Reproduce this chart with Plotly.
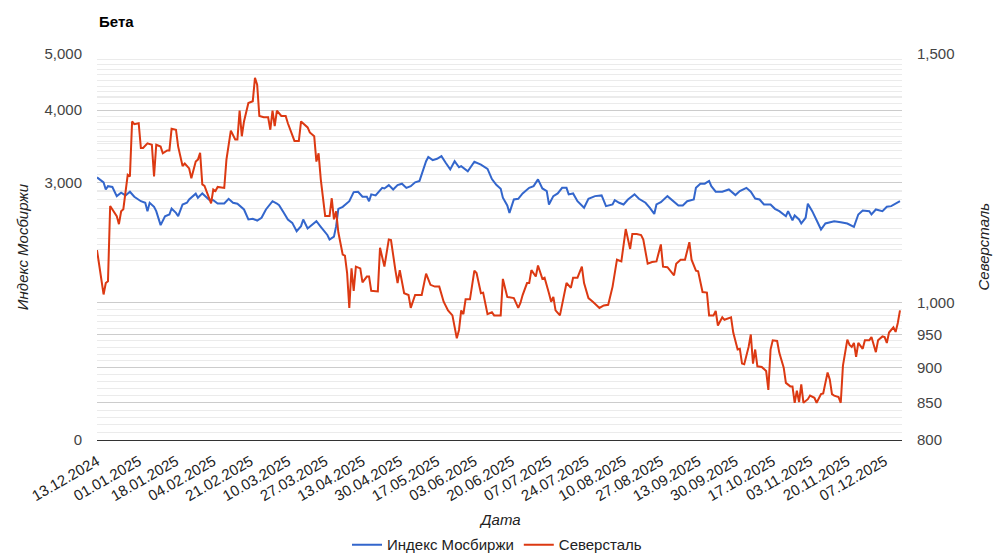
import math
import plotly.graph_objects as go

# ---------------- data ----------------
moex_dates = [
    "2024-12-13", "2024-12-16", "2024-12-17", "2024-12-18", "2024-12-20", "2024-12-22", "2024-12-24", "2024-12-26", "2024-12-28", "2024-12-30",
    "2025-01-02", "2025-01-04", "2025-01-05", "2025-01-06", "2025-01-08", "2025-01-09", "2025-01-11", "2025-01-13", "2025-01-15", "2025-01-16",
    "2025-01-18", "2025-01-19", "2025-01-21", "2025-01-23", "2025-01-24", "2025-01-27", "2025-01-28", "2025-01-30",
    "2025-02-02", "2025-02-04", "2025-02-06", "2025-02-09", "2025-02-11", "2025-02-13", "2025-02-15", "2025-02-18", "2025-02-20", "2025-02-22",
    "2025-02-24", "2025-02-26", "2025-02-28",
    "2025-03-03", "2025-03-05", "2025-03-06", "2025-03-08", "2025-03-10", "2025-03-12", "2025-03-14", "2025-03-16", "2025-03-17", "2025-03-19",
    "2025-03-23", "2025-03-25", "2025-03-28", "2025-03-29", "2025-03-31",
    "2025-04-01", "2025-04-02", "2025-04-04", "2025-04-07", "2025-04-09", "2025-04-11", "2025-04-13", "2025-04-15", "2025-04-16", "2025-04-17",
    "2025-04-19", "2025-04-22", "2025-04-23", "2025-04-25", "2025-04-27", "2025-04-29",
    "2025-05-01", "2025-05-03", "2025-05-05", "2025-05-07", "2025-05-09", "2025-05-11", "2025-05-12", "2025-05-13", "2025-05-15", "2025-05-17",
    "2025-05-19", "2025-05-21", "2025-05-23", "2025-05-25", "2025-05-27", "2025-05-28", "2025-05-31",
    "2025-06-03", "2025-06-06", "2025-06-09", "2025-06-11", "2025-06-13", "2025-06-15", "2025-06-16", "2025-06-18", "2025-06-19", "2025-06-21",
    "2025-06-23", "2025-06-25", "2025-06-28", "2025-06-30",
    "2025-07-02", "2025-07-04", "2025-07-06", "2025-07-07", "2025-07-09", "2025-07-11", "2025-07-13", "2025-07-15", "2025-07-16", "2025-07-18",
    "2025-07-20", "2025-07-23", "2025-07-25", "2025-07-28", "2025-07-31",
    "2025-08-02", "2025-08-05", "2025-08-06", "2025-08-08", "2025-08-10", "2025-08-12", "2025-08-15", "2025-08-17", "2025-08-20", "2025-08-22",
    "2025-08-24", "2025-08-25", "2025-08-27", "2025-08-30",
    "2025-09-02", "2025-09-04", "2025-09-06", "2025-09-08", "2025-09-11", "2025-09-12", "2025-09-14", "2025-09-16", "2025-09-18", "2025-09-19",
    "2025-09-21", "2025-09-24", "2025-09-27", "2025-09-30",
    "2025-10-02", "2025-10-05", "2025-10-07", "2025-10-09", "2025-10-11", "2025-10-13", "2025-10-16", "2025-10-18", "2025-10-20", "2025-10-23",
    "2025-10-24", "2025-10-26", "2025-10-27", "2025-10-29", "2025-10-30",
    "2025-11-01", "2025-11-02", "2025-11-04", "2025-11-06", "2025-11-08", "2025-11-10", "2025-11-12", "2025-11-14", "2025-11-17", "2025-11-20",
    "2025-11-23", "2025-11-25", "2025-11-27", "2025-11-30",
    "2025-12-01", "2025-12-03", "2025-12-06", "2025-12-08", "2025-12-10", "2025-12-12", "2025-12-14",
]
moex_values = [
    3060, 3000, 2916, 2955, 2945, 2840, 2880, 2848, 2890, 2833,
    2783, 2766, 2675, 2766, 2722, 2675, 2530, 2622, 2640, 2704, 2657, 2622, 2747, 2766, 2802, 2868, 2822, 2871,
    2802, 2795, 2758, 2758, 2810, 2766, 2755, 2693, 2588, 2595, 2577, 2606, 2693,
    2783, 2758, 2740, 2664, 2588, 2553, 2470, 2520, 2588, 2497, 2570, 2513, 2433, 2390, 2417,
    2520, 2700, 2722, 2783, 2886, 2890, 2833, 2833, 2783, 2860, 2848, 2935, 2928, 2967, 2916, 2967,
    2984, 2935, 2955, 3000, 3017, 3178, 3264, 3318, 3277, 3295, 3330, 3241, 3159, 3264, 3186, 3200, 3134,
    3256, 3220, 3166, 3040, 2971, 2925, 2822, 2736, 2657, 2802, 2810, 2871, 2935, 2955,
    3036, 2928, 2897, 2747, 2840, 2871, 2935, 2935, 2860, 2871, 2783, 2711, 2810, 2840, 2848,
    2729, 2747, 2795, 2766, 2747, 2802, 2860, 2810, 2766, 2711, 2646, 2747, 2773, 2840,
    2783, 2736, 2736, 2783, 2802, 2935, 2984, 2984, 3017, 2955, 2890, 2890, 2916, 2852,
    2897, 2935, 2890, 2813, 2802, 2747, 2747, 2700, 2675, 2622, 2675, 2580, 2630, 2588, 2547,
    2606, 2755, 2675, 2580, 2487, 2547, 2560, 2570, 2560, 2547, 2513, 2640, 2682, 2675,
    2640, 2693, 2675, 2722, 2729, 2755, 2783,
]

sev_dates = [
    "2024-12-13", "2024-12-15", "2024-12-16", "2024-12-17", "2024-12-18", "2024-12-19", "2024-12-20", "2024-12-22", "2024-12-23", "2024-12-24",
    "2024-12-25", "2024-12-27", "2024-12-28", "2024-12-29", "2024-12-30",
    "2025-01-01", "2025-01-02", "2025-01-03", "2025-01-05", "2025-01-07", "2025-01-08", "2025-01-09", "2025-01-11", "2025-01-12", "2025-01-14",
    "2025-01-15", "2025-01-16", "2025-01-18", "2025-01-19", "2025-01-21", "2025-01-22", "2025-01-24", "2025-01-25", "2025-01-27", "2025-01-28",
    "2025-01-29", "2025-01-30", "2025-01-31",
    "2025-02-03", "2025-02-04", "2025-02-05", "2025-02-06", "2025-02-09", "2025-02-10", "2025-02-12", "2025-02-14", "2025-02-15", "2025-02-16",
    "2025-02-17", "2025-02-18", "2025-02-20", "2025-02-22", "2025-02-23", "2025-02-24", "2025-02-25", "2025-02-27",
    "2025-03-01", "2025-03-02", "2025-03-03", "2025-03-04", "2025-03-05", "2025-03-07", "2025-03-09", "2025-03-10", "2025-03-13", "2025-03-15",
    "2025-03-16", "2025-03-19", "2025-03-20", "2025-03-22", "2025-03-23", "2025-03-24", "2025-03-25", "2025-03-27", "2025-03-29", "2025-03-30",
    "2025-03-31",
    "2025-04-01", "2025-04-02", "2025-04-04", "2025-04-05", "2025-04-06", "2025-04-07", "2025-04-08", "2025-04-09", "2025-04-10", "2025-04-12",
    "2025-04-13", "2025-04-15", "2025-04-16", "2025-04-17", "2025-04-20", "2025-04-21", "2025-04-23", "2025-04-25", "2025-04-26", "2025-04-28",
    "2025-04-29", "2025-04-30",
    "2025-05-02", "2025-05-04", "2025-05-05", "2025-05-07", "2025-05-10", "2025-05-12", "2025-05-14", "2025-05-16", "2025-05-18", "2025-05-20",
    "2025-05-22", "2025-05-24", "2025-05-25", "2025-05-26", "2025-05-27", "2025-05-28", "2025-05-29", "2025-05-30",
    "2025-06-01", "2025-06-03", "2025-06-04", "2025-06-06", "2025-06-07", "2025-06-09", "2025-06-11", "2025-06-12", "2025-06-15", "2025-06-16",
    "2025-06-18", "2025-06-20", "2025-06-21", "2025-06-23", "2025-06-24", "2025-06-25", "2025-06-27", "2025-06-28", "2025-06-29",
    "2025-07-01", "2025-07-02", "2025-07-04", "2025-07-05", "2025-07-07", "2025-07-08", "2025-07-09", "2025-07-10", "2025-07-12", "2025-07-14",
    "2025-07-15", "2025-07-17", "2025-07-18", "2025-07-20", "2025-07-22", "2025-07-23", "2025-07-25", "2025-07-27", "2025-07-30",
    "2025-08-01", "2025-08-03", "2025-08-05", "2025-08-07", "2025-08-09", "2025-08-11", "2025-08-13", "2025-08-14", "2025-08-16", "2025-08-18",
    "2025-08-19", "2025-08-21", "2025-08-23", "2025-08-25", "2025-08-27", "2025-08-28", "2025-08-30",
    "2025-09-02", "2025-09-03", "2025-09-05", "2025-09-07", "2025-09-09", "2025-09-10", "2025-09-12", "2025-09-13", "2025-09-15", "2025-09-17",
    "2025-09-18", "2025-09-20", "2025-09-21", "2025-09-22", "2025-09-24", "2025-09-25", "2025-09-28", "2025-09-29",
    "2025-10-01", "2025-10-02", "2025-10-03", "2025-10-04", "2025-10-06", "2025-10-07", "2025-10-08", "2025-10-09", "2025-10-10", "2025-10-12",
    "2025-10-14", "2025-10-15", "2025-10-16", "2025-10-17", "2025-10-19", "2025-10-20", "2025-10-22", "2025-10-23", "2025-10-25", "2025-10-26",
    "2025-10-27", "2025-10-28", "2025-10-29", "2025-10-30", "2025-10-31",
    "2025-11-02", "2025-11-03", "2025-11-05", "2025-11-06", "2025-11-08", "2025-11-09", "2025-11-10", "2025-11-11", "2025-11-12", "2025-11-13",
    "2025-11-14", "2025-11-16", "2025-11-17", "2025-11-18", "2025-11-20", "2025-11-21", "2025-11-22", "2025-11-23", "2025-11-24", "2025-11-25",
    "2025-11-27", "2025-11-28", "2025-11-30",
    "2025-12-01", "2025-12-03", "2025-12-04", "2025-12-06", "2025-12-07", "2025-12-08", "2025-12-09", "2025-12-11", "2025-12-12", "2025-12-13",
    "2025-12-14",
]
sev_values = [
    1090, 1039, 1014, 1033, 1036, 1171, 1165, 1152, 1137, 1161, 1165, 1232, 1229, 1344, 1338,
    1340, 1287, 1287, 1297, 1294, 1229, 1294, 1290, 1276, 1282, 1282, 1328, 1326, 1290, 1250, 1255, 1245, 1225, 1259, 1263, 1277, 1213, 1210,
    1176, 1203, 1200, 1208, 1206, 1263, 1324, 1305, 1305, 1368, 1312, 1344, 1385, 1389, 1443, 1427, 1356, 1353,
    1353, 1326, 1368, 1334, 1368, 1356, 1356, 1340, 1302, 1302, 1344, 1331, 1320, 1312, 1259, 1276, 1223, 1152, 1152, 1186, 1146,
    1161, 1122, 1082, 1080, 1050, 992, 1058, 1020, 1061, 1058, 1034, 1044, 1044, 1020, 1019, 1094, 1061, 1109, 1108, 1055, 1033, 1055,
    1016, 1013, 992, 1013, 1013, 1049, 1030, 1027, 1027, 1002, 988, 980, 961, 944, 957, 988, 982, 1006,
    1006, 1054, 1050, 1016, 1017, 982, 985, 980, 980, 1040, 1010, 1009, 1008, 992, 1000, 1013, 1033, 1033, 1055,
    1044, 1063, 1040, 1042, 1016, 1002, 1010, 988, 980, 1016, 1033, 1025, 1042, 1042, 1061, 1033, 1008, 1002, 992,
    996, 997, 1027, 1073, 1070, 1128, 1092, 1119, 1119, 1117, 1109, 1066, 1069, 1070, 1100, 1061, 1060,
    1046, 1066, 1073, 1073, 1104, 1073, 1054, 1053, 1018, 1017, 980, 980, 987, 964, 977, 973, 977, 953,
    927, 928, 906, 905, 931, 950, 906, 927, 902, 901, 895, 868, 927, 941, 940, 922, 900, 878, 873, 873, 850, 867, 851, 876, 850,
    855, 860, 857, 850, 862, 863, 878, 893, 883, 862, 860, 858, 850, 903, 942, 934, 931, 937, 916, 937, 928, 941, 941,
    946, 923, 941, 947, 946, 937, 953, 961, 954, 968, 988,
]

x_tick_dates = [
    "2024-12-13", "2025-01-01", "2025-01-18", "2025-02-04", "2025-02-21", "2025-03-10", "2025-03-27", "2025-04-13",
    "2025-04-30", "2025-05-17", "2025-06-03", "2025-06-20", "2025-07-07", "2025-07-24", "2025-08-10", "2025-08-27",
    "2025-09-13", "2025-09-30", "2025-10-17", "2025-11-03", "2025-11-20", "2025-12-07",
]
x_tick_labels = [
    "13.12.2024", "01.01.2025", "18.01.2025", "04.02.2025", "21.02.2025", "10.03.2025", "27.03.2025", "13.04.2025",
    "30.04.2025", "17.05.2025", "03.06.2025", "20.06.2025", "07.07.2025", "24.07.2025", "10.08.2025", "27.08.2025",
    "13.09.2025", "30.09.2025", "17.10.2025", "03.11.2025", "20.11.2025", "07.12.2025",
]
left_tick_vals = [1076, 3000, 4000, 5000]
left_tick_labels = ["0", "3,000", "4,000", "5,000"]
left_minor_vals = [v for v in range(2200, 5000, 100) if v not in (3000, 4000)]
right_tick_vals = [800, 850, 900, 950, 1000, 1500]
right_tick_labels = ["800", "850", "900", "950", "1,000", "1,500"]
right_minor_vals = [v for v in range(810, 1000, 10) if v not in (850, 900, 950)] + [1100, 1200, 1300, 1400]

FONT = "Arial, 'Liberation Sans', sans-serif"
BLUE = "#3366cc"
RED = "#dc3912"

fig = go.Figure()
fig.add_trace(go.Scatter(x=moex_dates, y=moex_values, name="Индекс Мосбиржи", mode="lines",
                         line=dict(color=BLUE, width=2), yaxis="y"))
fig.add_trace(go.Scatter(x=sev_dates, y=sev_values, name="Северсталь", mode="lines",
                         line=dict(color=RED, width=2), yaxis="y2"))

fig.update_layout(
    width=1000, height=560, autosize=False,
    margin=dict(l=97, r=98, t=54, b=120, autoexpand=False),
    paper_bgcolor="white", plot_bgcolor="white",
    font=dict(family=FONT, size=15, color="#222222"),
    showlegend=True,
    legend=dict(orientation="h", xref="container", yref="container", x=0.497, xanchor="center",
                y=0.027, yanchor="middle",
                font=dict(size=15, color="#222222"), bgcolor="rgba(0,0,0,0)", itemwidth=30),
    xaxis=dict(
        type="date", range=["2024-12-13", "2025-12-14 22:00"],
        tickmode="array", tickvals=x_tick_dates, ticktext=x_tick_labels, tickangle=-30,
        tickfont=dict(size=15, color="#222222"), showgrid=False, zeroline=False,
        showline=True, linecolor="#333333", linewidth=1, ticks="", ticklabelstandoff=6,
        automargin=False,
    ),
    yaxis=dict(
        type="log", range=[math.log10(1076), math.log10(5000)],
        tickmode="array", tickvals=left_tick_vals, ticktext=left_tick_labels,
        tickfont=dict(size=15, color="#444444"), gridcolor="#cccccc", gridwidth=1,
        zeroline=False, showline=False, ticks="", ticklabelstandoff=14, automargin=False,
        minor=dict(tickmode="array", tickvals=left_minor_vals, showgrid=True, gridcolor="#ebebeb", ticks=""),
    ),
    yaxis2=dict(
        type="log", range=[math.log10(800), math.log10(1500)], overlaying="y", side="right",
        tickmode="array", tickvals=right_tick_vals, ticktext=right_tick_labels,
        tickfont=dict(size=15, color="#444444"), gridcolor="#cccccc", gridwidth=1,
        zeroline=False, showline=False, ticks="", ticklabelstandoff=14, automargin=False,
        minor=dict(tickmode="array", tickvals=right_minor_vals, showgrid=True, gridcolor="#ebebeb", ticks=""),
    ),
    annotations=[
        dict(text="<b>Бета</b>", xref="paper", yref="paper", x=0, y=1.084, xanchor="left", yanchor="middle",
             showarrow=False, font=dict(size=15, color="#000000")),
        dict(text="<i>Индекс Мосбиржи</i>", xref="paper", yref="paper", x=-0.093, y=0.5, textangle=-90,
             xanchor="center", yanchor="middle", showarrow=False, font=dict(size=15, color="#222222")),
        dict(text="<i>Северсталь</i>", xref="paper", yref="paper", x=1.1, y=0.5, textangle=-90,
             xanchor="center", yanchor="middle", showarrow=False, font=dict(size=15, color="#222222")),
        dict(text="<i>Дата</i>", xref="paper", yref="paper", x=0.5, y=-0.206,
             xanchor="center", yanchor="middle", showarrow=False, font=dict(size=15, color="#222222")),
    ],
)

fig.write_html("out.html")
